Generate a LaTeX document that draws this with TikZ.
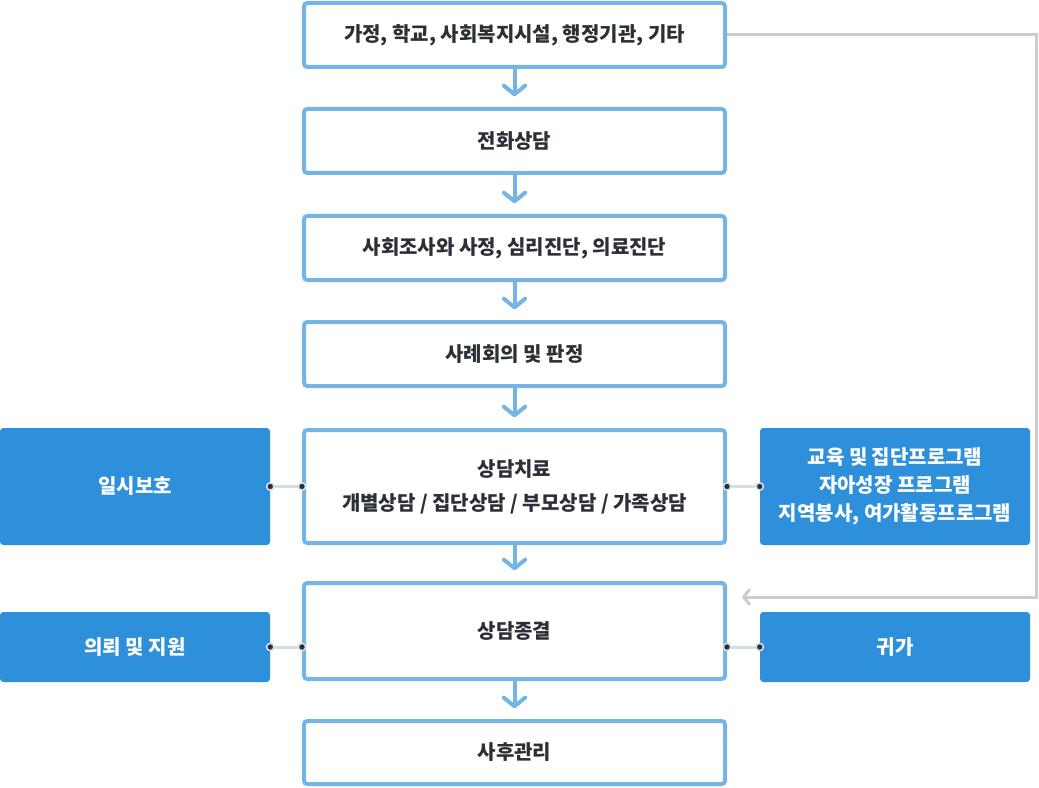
\documentclass[tikz,border=0pt]{standalone}
\usepackage{fontspec}
\setmainfont{Noto Sans CJK KR}
\usetikzlibrary{arrows.meta,positioning,calc}
\definecolor{ink}{HTML}{2B2F36}
\definecolor{edge}{HTML}{74B5E6}
\definecolor{boxblue}{HTML}{2E8FDA}
\definecolor{hair}{HTML}{C9CDD3}
\definecolor{tiecol}{HTML}{D6DEE5}
\definecolor{dotcol}{HTML}{2A2E36}
\tikzset{
  stage/.style={draw=edge,line width=3pt,rounded corners=2.5pt,fill=white,minimum width=315.75pt,
    text=ink,font=\bfseries\fontsize{15}{25.5}\selectfont,align=center,inner sep=0pt},
  side/.style={fill=boxblue,rounded corners=2.5pt,minimum width=202.5pt,text=white,
    font=\bfseries\fontsize{15}{21}\selectfont,align=center,inner sep=0pt},
  flow/.style={edge,line width=3pt,shorten >=8pt,-{Straight Barb[length=6.5pt,width=16pt,round]}},
  back/.style={hair,line width=2.25pt,-{Straight Barb[length=4.5pt,width=11pt,round]}},
  tie/.style={tiecol,line width=2.25pt},
  pin/.style={circle,fill=dotcol,draw=tiecol,line width=1.2pt,inner sep=0pt,minimum size=5.5pt}
}
\begin{document}
\begin{tikzpicture}[x=0.75pt,y=-0.75pt]
\useasboundingbox (0,0) rectangle (1039,788);
% main flow
\foreach \n/\y/\h/\t in {a/35/64/{가정, 학교, 사회복지시설, 행정기관, 기타},b/141/64/{전화상담},c/248/64/{사회조사와 사정, 심리진단, 의료진단},d/354/64/{사례회의 및 판정},e/486.5/113/{상담치료\\개별상담 / 집단상담 / 부모상담 / 가족상담},f/631/96/{상담종결},g/752.5/63/{사후관리}}{
  \node[stage,minimum height=\h*0.75pt] (\n) at (514.5,\y) {\t};
}
\foreach \p/\q in {a/b,b/c,c/d,d/e,e/f,f/g}{
  \draw[flow] (\p.south) -- (\q.north);
}
% side boxes
\node[side,minimum height=87.75pt] (l1) at (135,486.5) {일시보호};
\node[side,minimum height=87.75pt] (r1) at (895,486.5) {교육 및 집단프로그램\\자아성장 프로그램\\지역봉사, 여가활동프로그램};
\node[side,minimum height=52.5pt] (l2) at (135,647) {의뢰 및 지원};
\node[side,minimum height=52.5pt] (r2) at (895,647) {귀가};
% ties
\draw[tie] (l1.east) -- (e.west);
\draw[tie] (e.east) -- (r1.west);
\draw[tie] (l2.east) -- (l2.east -| f.west);
\draw[tie] (r2.west -| f.east) -- (r2.west);
\foreach \k in {l1.east,e.west,e.east,r1.west,l2.east,r2.west}{
  \node[pin] at (\k) {};
}
\node[pin] at (l2.east -| f.west) {};
\node[pin] at (r2.west -| f.east) {};
% return line
\coordinate (ret) at (742,597);
\draw[back] (a.east) -- (1036,35) |- (ret);
\end{tikzpicture}
\end{document}
